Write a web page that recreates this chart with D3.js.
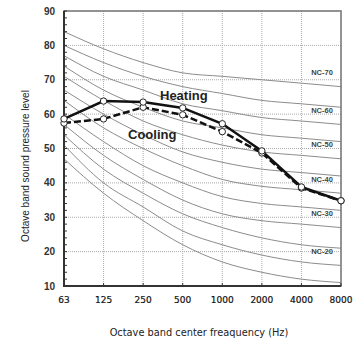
<!DOCTYPE html>
<html>
<head>
<meta charset="utf-8">
<script src="https://cdn.jsdelivr.net/npm/d3@7"></script>
<style>
  body { margin: 0; background: #fff; }
</style>
</head>
<body>
<div id="chart"></div>
<script>
var freqs = ["63", "125", "250", "500", "1000", "2000", "4000", "8000"];
var heating = [58.6, 63.8, 63.5, 61.8, 57.2, 49.3, 38.8, 34.8];
var cooling = [57.4, 58.6, 62.0, 59.8, 54.9, 48.7, 38.5, 34.8];
var ncNames = [15, 20, 25, 30, 35, 40, 45, 50, 55, 60, 65, 70];
var ncValues = [
  [47, 37, 29, 22, 17, 14, 12, 11],
  [51, 40, 33, 26, 22, 19, 17, 16],
  [54, 44, 37, 31, 27, 24, 22, 21],
  [57, 48, 41, 35, 31, 29, 28, 27],
  [60, 52, 45, 40, 36, 34, 33, 32],
  [64, 56, 50, 45, 41, 39, 38, 37],
  [67, 60, 54, 49, 46, 44, 43, 42],
  [71, 64, 58, 54, 51, 49, 48, 47],
  [74, 67, 62, 58, 56, 54, 53, 52],
  [77, 71, 67, 63, 61, 59, 58, 57],
  [80, 75, 71, 68, 66, 64, 63, 62],
  [84, 79, 75, 72, 71, 70, 69, 68]
];
var ncLabelled = [20, 30, 40, 50, 60, 70];
var yTicks = [10, 20, 30, 40, 50, 60, 70, 80, 90];

var width = 355, height = 344;
var margin = {left: 64, right: 14, top: 11, bottom: 58};

var svg = d3.select("#chart").append("svg")
  .attr("width", width)
  .attr("height", height);

var x = d3.scalePoint()
  .domain(freqs)
  .range([margin.left, width - margin.right]);

var y = d3.scaleLinear()
  .domain([10, 90])
  .range([height - margin.bottom, margin.top]);

svg.append("clipPath").attr("id", "plot")
  .append("rect")
  .attr("x", margin.left).attr("y", margin.top)
  .attr("width", width - margin.right - margin.left)
  .attr("height", height - margin.bottom - margin.top);

// grid
svg.append("g").selectAll("line")
  .data(yTicks)
  .enter().append("line")
  .attr("x1", margin.left).attr("x2", width - margin.right)
  .attr("y1", d => y(d)).attr("y2", d => y(d))
  .attr("stroke", "#aaa").attr("stroke-width", 1)
  .attr("stroke-dasharray", "1,1");

svg.append("g").selectAll("line")
  .data(freqs)
  .enter().append("line")
  .attr("x1", d => x(d)).attr("x2", d => x(d))
  .attr("y1", margin.top).attr("y2", height - margin.bottom)
  .attr("stroke", "#aaa").attr("stroke-width", 1)
  .attr("stroke-dasharray", "1,1");

// NC curves
var ncLine = d3.line()
  .x((d, i) => x(freqs[i]))
  .y(d => y(d))
  .curve(d3.curveMonotoneX);

svg.append("g").attr("clip-path", "url(#plot)")
  .selectAll("path")
  .data(ncValues)
  .enter().append("path")
  .attr("d", ncLine)
  .attr("fill", "none")
  .attr("stroke", "#8c8c8c")
  .attr("stroke-width", 1);

svg.append("g").selectAll("text")
  .data(ncLabelled)
  .enter().append("text")
  .attr("x", 322)
  .attr("y", function(d) {
    var v = ncValues[ncNames.indexOf(d)];
    return y((v[6] + v[7]) / 2 + 3.6);
  })
  .attr("dy", "0.35em")
  .attr("text-anchor", "middle")
  .style("font-family", "Liberation Sans, Arial, sans-serif")
  .style("font-size", "7.5px")
  .style("font-weight", "bold")
  .style("fill", "#444")
  .text(d => "NC-" + d);

// frame
svg.append("rect")
  .attr("x", margin.left).attr("y", margin.top)
  .attr("width", width - margin.right - margin.left)
  .attr("height", height - margin.bottom - margin.top)
  .attr("fill", "none")
  .attr("stroke", "#777").attr("stroke-width", 1.5);

svg.append("path")
  .attr("d", "M" + margin.left + "," + margin.top + "V" + (height - margin.bottom) + "H" + (width - margin.right))
  .attr("fill", "none")
  .attr("stroke", "#333").attr("stroke-width", 2);

// minor ticks on y
svg.append("g").selectAll("line")
  .data(d3.range(10, 91, 2))
  .enter().append("line")
  .attr("x1", margin.left).attr("x2", margin.left + 3)
  .attr("y1", d => y(d)).attr("y2", d => y(d))
  .attr("stroke", "#333").attr("stroke-width", 1);

svg.append("g").selectAll("line")
  .data(freqs)
  .enter().append("line")
  .attr("x1", d => x(d)).attr("x2", d => x(d))
  .attr("y1", height - margin.bottom).attr("y2", height - margin.bottom - 3)
  .attr("stroke", "#333").attr("stroke-width", 1);

// tick labels
svg.append("g").selectAll("text")
  .data(yTicks)
  .enter().append("text")
  .attr("x", margin.left - 9)
  .attr("y", d => y(d))
  .attr("dy", "0.35em")
  .attr("text-anchor", "end")
  .style("font-family", "Liberation Sans Narrow, Arial Narrow, sans-serif")
  .style("font-size", "10px")
  .style("font-weight", "bold")
  .style("fill", "#333")
  .text(d => d);

svg.append("g").selectAll("text")
  .data(freqs)
  .enter().append("text")
  .attr("x", d => x(d))
  .attr("y", 300)
  .attr("dy", "0.35em")
  .attr("text-anchor", "middle")
  .style("font-family", "DejaVu Sans, Verdana, sans-serif")
  .style("font-size", "9px")
  .style("fill", "#111")
  .style("stroke", "#111")
  .style("stroke-width", 0.2)
  .text(d => d);

// axis titles
svg.append("text")
  .attr("x", 199).attr("y", 333)
  .attr("dy", "0.35em")
  .attr("text-anchor", "middle")
  .style("font-family", "DejaVu Sans, Verdana, sans-serif")
  .style("font-size", "9.8px")
  .style("fill", "#222")
  .text("Octave band center freaquency (Hz)");

svg.append("text")
  .attr("transform", "translate(25,166) rotate(-90)")
  .attr("dy", "0.35em")
  .attr("text-anchor", "middle")
  .style("font-family", "Liberation Sans, Arial, sans-serif")
  .style("font-size", "10px")
  .style("fill", "#222")
  .text("Octave band sound pressure level");

// series
var dataLine = d3.line()
  .x((d, i) => x(freqs[i]))
  .y(d => y(d));

svg.append("path")
  .attr("d", dataLine(cooling))
  .attr("fill", "none")
  .attr("stroke", "#111")
  .attr("stroke-width", 2.5)
  .attr("stroke-dasharray", "7,3");

svg.append("path")
  .attr("d", dataLine(heating))
  .attr("fill", "none")
  .attr("stroke", "#111")
  .attr("stroke-width", 2.5);

[cooling, heating].forEach(function(series) {
  svg.append("g").selectAll("circle")
    .data(series)
    .enter().append("circle")
    .attr("cx", (d, i) => x(freqs[i]))
    .attr("cy", d => y(d))
    .attr("r", 3.2)
    .attr("fill", "#fff")
    .attr("stroke", "#222")
    .attr("stroke-width", 1);
});

svg.append("text")
  .attr("x", 160).attr("y", 100)
  .style("font-family", "Liberation Sans, Arial, sans-serif")
  .style("font-size", "13px")
  .style("font-weight", "bold")
  .style("fill", "#222")
  .text("Heating");

svg.append("text")
  .attr("x", 128).attr("y", 139)
  .style("font-family", "Liberation Sans, Arial, sans-serif")
  .style("font-size", "13px")
  .style("font-weight", "bold")
  .style("fill", "#222")
  .text("Cooling");
</script>
</body>
</html>
